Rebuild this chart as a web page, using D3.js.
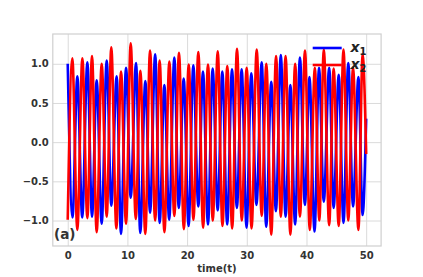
<!DOCTYPE html>
<html><head><meta charset="utf-8">
<script src="https://cdn.jsdelivr.net/npm/d3@7"></script>
<style>body{margin:0;background:#fff}svg{display:block}</style>
</head><body><svg id="c" width="423" height="277"></svg>
<script>
// x1 (blue) extrema, plus start/end points
const x1Times  = [0,0.8,1.61,2.43,3.29,4.07,4.85,5.69,6.53,7.3,8.2,8.93,9.77,10.55,11.45,12.15,13.0,13.8,14.65,15.4,16.19,17.0,17.86,18.6,19.43,20.25,21.04,21.88,22.66,23.5,24.28,25.12,25.9,26.72,27.52,28.34,29.14,29.96,30.75,31.62,32.5,33.25,34.1,34.88,35.7,36.5,37.3,38.1,38.9,39.73,40.5,41.35,42.1,42.9,43.8,44.55,45.4,46.2,47.0,47.8,48.7,49.4,50];
const x1Values = [1.0,-0.96,0.84,-0.96,1.02,-0.95,0.79,-1.04,1.04,-0.81,0.84,-1.17,0.95,-0.71,1.01,-1.16,0.78,-0.90,1.12,-1.03,0.73,-0.99,1.08,-0.84,0.81,-1.07,0.98,-0.82,0.90,-1.05,0.94,-0.87,0.90,-1.05,0.93,-0.84,0.93,-1.09,0.88,-0.80,1.02,-1.08,0.77,-0.88,1.11,-0.95,0.73,-1.05,1.08,-0.80,0.83,-1.14,0.95,-0.76,0.95,-0.84,0.86,-1.03,1.01,-0.82,0.83,-0.93,0.3];
// x2 (red)
const x2Times  = [0,0.77,1.61,2.45,3.29,4.07,4.85,5.69,6.53,7.3,8.15,8.93,9.77,10.55,11.4,12.17,13.0,13.79,14.65,15.4,16.2,17.02,17.86,18.64,19.45,20.27,21.06,21.88,22.68,23.5,24.3,25.13,25.92,26.73,27.55,28.36,29.16,29.98,30.8,31.66,32.5,33.27,34.1,34.9,35.7,36.5,37.3,38.1,38.9,39.75,40.55,41.4,42.15,42.9,43.8,44.55,45.4,46.2,47.0,47.8,48.7,49.4,50];
const x2Values = [-0.99,1.07,-1.12,1.07,-0.97,1.10,-1.15,1.00,-0.95,1.21,-1.10,0.90,-1.04,1.26,-0.98,0.91,-1.17,1.17,-1.0,1.04,-1.15,1.03,-0.94,1.14,-1.11,0.99,-0.99,1.15,-1.09,0.99,-1.0,1.16,-1.07,0.97,-1.1,1.19,-1.0,0.95,-1.1,1.18,-0.94,1.00,-1.18,1.10,-0.95,1.10,-1.18,1.00,-0.95,1.17,-1.12,0.95,-1.0,1.18,-1.06,0.94,-1.07,1.18,-1.0,0.95,-1.12,1.12,-0.15];
const xTicks = [0,10,20,30,40,50];
const yTicks = [-1.0,-0.5,0.0,0.5,1.0];
const seriesNames = ["1","2"];

const svg = d3.select("#c");
const L=52.8, R=381.1, T=34, B=246;
const x = d3.scaleLinear().domain([-2.5,52.5]).range([L,R]);
const y = d3.scaleLinear().domain([-1.325,1.38]).range([B,T]);
const font = "'DejaVu Sans', sans-serif";
const grid = "#dadada";

// grid
svg.append("g").attr("transform",`translate(0,${B})`)
  .call(d3.axisBottom(x).tickValues(xTicks).tickSize(-(B-T)).tickFormat(""))
  .call(g=>g.select(".domain").remove())
  .selectAll("line").attr("stroke",grid).attr("stroke-width",1);
svg.append("g").attr("transform",`translate(${L},0)`)
  .call(d3.axisLeft(y).tickValues(yTicks).tickSize(-(R-L)).tickFormat(""))
  .call(g=>g.select(".domain").remove())
  .selectAll("line").attr("stroke",grid).attr("stroke-width",1);
// frame
svg.append("rect").attr("x",L).attr("y",T).attr("width",R-L).attr("height",B-T)
  .attr("fill","none").attr("stroke","#cfcfcf").attr("stroke-width",1.2);

// tick labels
const fmt = d => d3.format(".1f")(d).replace("-","\u2212");
const gx = svg.append("g").attr("transform",`translate(0,${B})`)
  .call(d3.axisBottom(x).tickValues(xTicks).tickSize(0).tickPadding(5.5).tickFormat(d3.format("d")));
const gy = svg.append("g").attr("transform",`translate(${L},0)`)
  .call(d3.axisLeft(y).tickValues(yTicks).tickSize(0).tickPadding(4).tickFormat(fmt));
[gx,gy].forEach(g=>{g.select(".domain").remove();
  g.selectAll("text").attr("font-family",font).attr("font-weight","bold").attr("font-size",10).attr("fill","#333");});

svg.append("text").attr("x",(L+R)/2).attr("y",272).attr("text-anchor","middle")
  .attr("font-family",font).attr("font-weight","bold").attr("font-size",10).attr("fill","#333").text("time(t)");

// lines
const line = d3.line().x(d=>x(d[0])).y(d=>y(d[1])).curve(d3.curveMonotoneX);
const s1 = x1Times.map((t,i)=>[t,x1Values[i]]);
const s2 = x2Times.map((t,i)=>[t,x2Values[i]]);
svg.append("path").datum(s1).attr("d",line).attr("fill","none").attr("stroke","#0000ff").attr("stroke-width",2.6);
svg.append("path").datum(s2).attr("d",line).attr("fill","none").attr("stroke","#ff0000").attr("stroke-width",2.6);

// legend
const colors = ["#0000ff","#ff0000"];
const ly = [48,65];
seriesNames.forEach((n,i)=>{
  svg.append("line").attr("x1",312.7).attr("x2",341.7).attr("y1",ly[i]).attr("y2",ly[i])
    .attr("stroke",colors[i]).attr("stroke-width",2.6);
  const t = svg.append("text").attr("x",350.5).attr("y",ly[i]+4).attr("font-family",font)
    .attr("font-weight","bold").attr("font-style","italic").attr("font-size",14).attr("fill","#222");
  t.append("tspan").text("x");
  t.append("tspan").attr("dy",3).attr("font-size",10).attr("font-style","normal").text(n);
});

// panel label
svg.append("text").attr("x",54).attr("y",239).attr("font-family",font).attr("font-weight","bold")
  .attr("font-size",13.5).attr("fill","#333").text("(a)");
</script></body></html>
